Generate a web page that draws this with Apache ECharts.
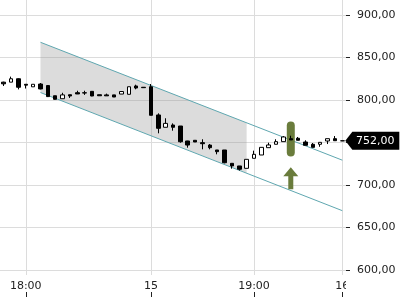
<!DOCTYPE html>
<html>
<head>
<meta charset="utf-8">
<script src="https://cdn.jsdelivr.net/npm/echarts@6/dist/echarts.min.js"></script>
<style>
  html, body { margin: 0; padding: 0; background: #fff; }
  #chart { width: 400px; height: 300px; }
</style>
</head>
<body>
<div id="chart"></div>
<script>
// candles: [open, close, low, high]
const candles = [
  [821, 819, 816.5, 821.5],
  [821, 825, 821, 827.5],
  [825, 815, 812.5, 825.5],
  [818.5, 817.5, 813.5, 818.5],
  [815.5, 818.5, 815.5, 818.5],
  [818.8, 813, 812.5, 820],
  [817, 804, 803.5, 817.5],
  [805, 800.8, 800.5, 805],
  [801.5, 806, 801.5, 808.5],
  [806.2, 804.7, 802.4, 806.2],
  [808.6, 807.1, 807, 810.9],
  [808.2, 808.6, 806, 810.9],
  [810.2, 804.7, 804.5, 810.5],
  [806.2, 805, 805, 806.2],
  [806, 804.9, 804.9, 807.5],
  [806, 803.5, 803.5, 806],
  [807, 810, 807, 810],
  [806.7, 815.6, 806.7, 815.6],
  [816.5, 814.1, 812.6, 818],
  [815, 814.5, 814.2, 815],
  [815.6, 782, 782, 818.8],
  [782.4, 766.7, 760.8, 784.3],
  [767.9, 772.5, 767.9, 778.5],
  [770.6, 767.9, 763.9, 772.5],
  [769.4, 750.9, 749.8, 769.4],
  [751.8, 747, 743.9, 752],
  [752.6, 750.6, 750.6, 752.6],
  [749.8, 748.6, 742, 753.8],
  [747, 743.9, 742, 748.2],
  [741.2, 739.2, 736.1, 741.2],
  [741.2, 726.2, 725.5, 741.2],
  [725.5, 722.4, 719.2, 725.5],
  [722.4, 718.5, 717, 722.4],
  [719.6, 730.2, 719.6, 730.2],
  [731.4, 736.1, 731.4, 740.4],
  [735.3, 744.3, 735.3, 744.3],
  [743.9, 747.1, 743.9, 749.8],
  [747.9, 751, 747.9, 753.8],
  [751, 756.5, 751, 757.5],
  [754.5, 753, 753, 758],
  [755, 752.6, 752.6, 756.5],
  [750.6, 746.7, 746.7, 752.6],
  [747.9, 744.3, 744.3, 749.4],
  [747.9, 750.2, 745, 750.2],
  [751.8, 754.5, 748.2, 754.5],
  [754.5, 752.1, 752.1, 757.6],
  [752, 752, 752, 752]
];
const cats = candles.map((c, i) => i);

const tickIdx = [3, 20, 34, 46];
const tickText = ['18:00', '15', '19:00', '16'];
const priceTicks = [600, 650, 700, 750, 800, 850, 900];

// trend channel
const chanX = [5, 46];
const chanUpper = [867.9, 729.2];
const chanLower = [808.8, 669.8];
// shaded part of the channel
const shadeX = [5, 33];
const shadeTop = [867.9, 773.2];
const shadeBottom = [808.8, 714.1];

// signal marker + arrow
const signalIdx = 39;
const signalLevel = 754;
const arrowLevel = 708;

const lastClose = candles[candles.length - 1][1];

const font = 'DejaVu Sans';
const gridColor = '#dcdcdc';
const chanColor = '#5fa7b0';
const olive = '#6a7c3c';

const fmt = v => v.toFixed(2).replace('.', ',');
const showTick = i => tickIdx.indexOf(i) >= 0;

const chart = echarts.init(document.getElementById('chart'));

const gridLines = tickIdx.map(i => ({ xAxis: i }))
  .concat(priceTicks.map(p => ({ yAxis: p })));

chart.setOption({
  animation: false,
  backgroundColor: '#fff',
  grid: { left: 0, right: 54, top: 0, bottom: 25 },
  xAxis: [
    {
      type: 'category',
      data: cats,
      boundaryGap: true,
      axisLine: { show: false },
      axisTick: { show: false },
      splitLine: { show: false },
      axisLabel: {
        interval: (i) => showTick(i),
        formatter: (v, i) => tickText[tickIdx.indexOf(i)],
        margin: 6,
        fontSize: 11,
        fontFamily: font,
        color: '#222'
      }
    },
    {
      // only the little ticks under the labels
      type: 'category',
      data: cats,
      position: 'bottom',
      offset: 17,
      axisLine: { show: false },
      axisLabel: { show: false },
      splitLine: { show: false },
      axisTick: {
        show: true,
        alignWithLabel: true,
        interval: (i) => showTick(i),
        length: 5,
        lineStyle: { color: '#222' }
      }
    }
  ],
  yAxis: {
    type: 'value',
    position: 'right',
    min: 594.12,
    max: 917.65,
    axisLine: { show: false },
    splitLine: { show: false },
    axisTick: {
      show: true,
      length: 4,
      customValues: priceTicks,
      lineStyle: { color: '#222' }
    },
    axisLabel: {
      customValues: priceTicks,
      margin: 11,
      fontSize: 11,
      fontFamily: font,
      color: '#222',
      formatter: v => fmt(v)
    }
  },
  graphic: [
    // the "16" label is cut off by the price scale
    { type: 'rect', left: 346, top: 277, shape: { width: 54, height: 23 },
      style: { fill: '#fff' }, z: 100 }
  ],
  series: [
    {
      type: 'custom',
      z: 1,
      silent: true,
      data: [[shadeX[0], shadeTop[0]]],
      renderItem: function (params, api) {
        const pts = [
          api.coord([shadeX[0], shadeTop[0]]),
          api.coord([shadeX[1], shadeTop[1]]),
          api.coord([shadeX[1], shadeBottom[1]]),
          api.coord([shadeX[0], shadeBottom[0]])
        ];
        return {
          type: 'polygon',
          shape: { points: pts },
          style: { fill: 'rgba(150,150,150,0.33)' }
        };
      },
      markLine: {
        silent: true,
        z: 0,
        symbol: ['none', 'none'],
        label: { show: false },
        lineStyle: { color: gridColor, width: 1, type: 'solid' },
        emphasis: { disabled: true },
        data: gridLines
      }
    },
    {
      type: 'line',
      z: 2,
      silent: true,
      symbol: 'none',
      lineStyle: { color: chanColor, width: 1 },
      data: [[chanX[0], chanUpper[0]], [chanX[1], chanUpper[1]]],
      markPoint: {
        z: 3,
        silent: true,
        label: { show: false },
        data: [
          {
            coord: [signalIdx, signalLevel],
            symbol: 'path://M0,4 A4,4 0 0 1 8,4 L8,31 A4,4 0 0 1 0,31 Z',
            symbolSize: [8, 35],
            itemStyle: { color: olive }
          },
          {
            coord: [signalIdx, arrowLevel],
            symbol: 'path://M7.5,0 L15,9 L10,9 L10,22 L5,22 L5,9 L0,9 Z',
            symbolSize: [15, 22],
            itemStyle: { color: olive }
          }
        ]
      }
    },
    {
      type: 'line',
      z: 2,
      silent: true,
      symbol: 'none',
      lineStyle: { color: chanColor, width: 1 },
      data: [[chanX[0], chanLower[0]], [chanX[1], chanLower[1]]]
    },
    {
      type: 'candlestick',
      z: 4,
      barWidth: 4,
      data: candles,
      itemStyle: {
        color: '#fff',
        color0: '#000',
        borderColor: '#000',
        borderColor0: '#000',
        borderWidth: 1
      },
      markPoint: {
        z: 10,
        silent: true,
        data: [
          {
            coord: [candles.length - 1, lastClose],
            value: lastClose,
            symbol: 'path://M0,9 L7,0 L54,0 L54,18 L7,18 Z',
            symbolSize: [54, 18],
            symbolOffset: [30, 0],
            itemStyle: { color: '#000' },
            label: {
              show: true,
              position: 'inside',
              offset: [3, 0],
              color: '#fff',
              fontSize: 11,
              fontFamily: font,
              formatter: () => fmt(lastClose)
            }
          }
        ]
      }
    }
  ]
});
</script>
</body>
</html>
